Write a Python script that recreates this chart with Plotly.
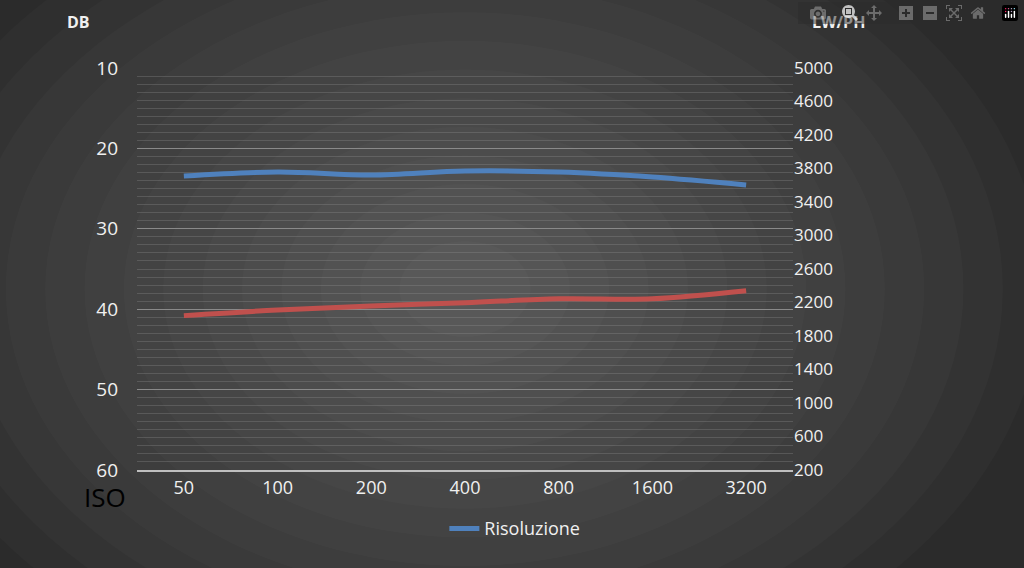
import plotly.graph_objects as go

iso = ["50", "100", "200", "400", "800", "1600", "3200"]
risoluzione = [3710, 3758, 3722, 3770, 3758, 3698, 3603]
rumore_db = [40.8, 40.1, 39.6, 39.2, 38.7, 38.7, 37.7]

fig = go.Figure()
fig.add_trace(go.Scatter(x=iso, y=rumore_db, mode="lines", line=dict(color="#c0504d", width=5, shape="spline"),
                         showlegend=False, yaxis="y"))
fig.add_trace(go.Scatter(x=iso, y=risoluzione, mode="lines", name="Risoluzione",
                         line=dict(color="#4f81bd", width=5, shape="spline"), yaxis="y2"))

shapes = []
n = 14
for i in range(n):
    s = 1.1 - i * 0.075
    shapes.append(dict(type="circle", xref="paper", yref="paper", layer="below",
                       x0=0.5 - 0.8 * s, x1=0.5 + 0.8 * s, y0=0.45 - 0.95 * s, y1=0.45 + 0.95 * s,
                       fillcolor="white", opacity=0.018, line_width=0))

font = dict(family="Open Sans, Liberation Sans, sans-serif", color="#f0f0f0")
fig.update_layout(
    width=1024, height=568,
    margin=dict(l=137, r=231, t=68, b=98),
    paper_bgcolor="#2b2b2b", plot_bgcolor="rgba(0,0,0,0)",
    font=dict(**font, size=18),
    shapes=shapes,
    xaxis=dict(type="category", range=[-0.5, 6.5], showgrid=False, showline=True, linecolor="#bfbfbf",
               linewidth=2, ticks="", tickfont=dict(size=18)),
    yaxis=dict(range=[60, 10], tickvals=[10, 20, 30, 40, 50, 60], gridcolor="#8a8a8a", gridwidth=1,
               zeroline=False, ticks="", ticklabelstandoff=18, tickfont=dict(size=19),
               minor=dict(dtick=1, showgrid=True, gridcolor="rgba(150,150,150,0.3)", gridwidth=1)),
    yaxis2=dict(range=[200, 5000], overlaying="y", side="right", tickvals=list(range(200, 5001, 400)),
                showgrid=False, zeroline=False, ticks="", tickfont=dict(size=17)),
    legend=dict(orientation="h", x=0.576, xanchor="center", y=-0.1, yanchor="top", font=dict(size=18),
                bgcolor="rgba(0,0,0,0)"),
)
W, H = 1024 - 137 - 231, 568 - 68 - 98
anns = []
for text, px, py, size, col in [("<b>DB</b>", 78, 22, 16, "#f0f0f0"), ("<b>LW/PH</b>", 838, 22, 16, "#f0f0f0"),
                                ("ISO", 105, 497, 26, "#000000")]:
    anns.append(dict(text=text, showarrow=False, font=dict(size=size, color=col), xref="paper", yref="paper",
                     x=(px - 137) / W, y=1 - (py - 68) / H, xanchor="center", yanchor="middle"))
fig.layout.annotations = anns
fig.write_html("out.html", post_script="document.body.style.margin='0';document.body.style.background='#2b2b2b';")
